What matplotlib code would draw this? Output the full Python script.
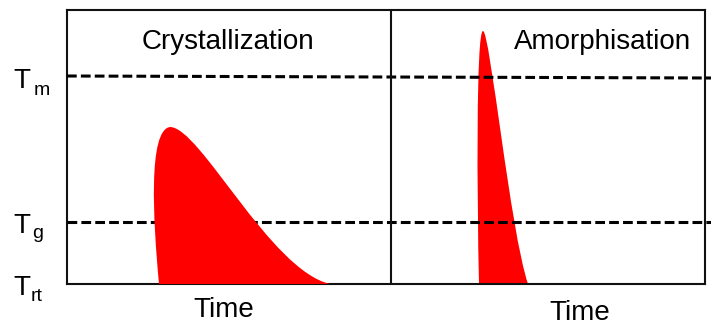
import matplotlib
matplotlib.use("Agg")
import matplotlib.pyplot as plt
from matplotlib.path import Path
from matplotlib.patches import PathPatch

plt.rcParams['font.family'] = ['Liberation Sans', 'DejaVu Sans']
plt.rcParams['lines.scale_dashes'] = False

# Axis extents (arbitrary time / temperature units)
time_max = 638
temp_max = 274
panel_split = 324          # boundary between the two processes

# Reference temperatures
T_rt = 0
T_g = 62
T_m_start, T_m_end = 208, 206
line_end = 644

panel_titles = ["Crystallization", "Amorphisation"]
axis_label = "Time"
temp_labels = [("T", "m", T_m_start), ("T", "g", T_g), ("T", "rt", T_rt)]

# Temperature pulses as cubic Bezier control points (time, temperature)
cryst_pulse_t = [92, 86, 81, 103, 133, 203, 263]
cryst_pulse_T = [0, 64, 154, 157, 157, 14, 0]
amorph_pulse_t = [412, 410, 409, 416, 423, 443, 461]
amorph_pulse_T = [1, 84, 253, 253, 253, 54, 0]

W, H = 711, 325
fig = plt.figure(figsize=(W / 100, H / 100), dpi=100)
ax = fig.add_axes([67 / W, (H - 284) / H, (705 - 67) / W, (284 - 10) / H])
ax.set_xlim(0, time_max)
ax.set_ylim(0, temp_max)
ax.set_xticks([])
ax.set_yticks([])
for sp in ax.spines.values():
    sp.set_linewidth(1.5)
    sp.set_color('#111111')


def pulse_patch(ts, Ts, z):
    verts = list(zip(ts, Ts)) + [(ts[0], Ts[0])]
    codes = [Path.MOVETO] + [Path.CURVE4] * 6 + [Path.CLOSEPOLY]
    return PathPatch(Path(verts, codes), facecolor='#ff0000',
                     edgecolor='none', zorder=z)


dash = dict(color='black', lw=2.2, dashes=(7.0, 3.0), clip_on=False)
ax.plot([0, line_end], [T_m_start, T_m_end], zorder=3, **dash)
ax.plot([0, line_end], [T_g, T_g], zorder=3, **dash)

ax.add_patch(pulse_patch(cryst_pulse_t, cryst_pulse_T, 4))
ax.add_patch(pulse_patch(amorph_pulse_t, amorph_pulse_T, 2))

ax.axvline(panel_split, color='#111111', lw=1.5, zorder=5)


def fig_xy(px, py):
    return px / W, 1 - py / H


ax_text = dict(transform=fig.transFigure, color='black')
fig.text(*fig_xy(228, 42), panel_titles[0], fontsize=20,
         ha='center', va='center', **ax_text)
fig.text(*fig_xy(603, 42), panel_titles[1], fontsize=20,
         ha='center', va='center', **ax_text)
fig.text(*fig_xy(224, 317), axis_label, fontsize=20,
         ha='center', va='baseline', **ax_text)
fig.text(*fig_xy(580, 320), axis_label, fontsize=20,
         ha='center', va='baseline', **ax_text)

# Temperature labels with subscripts
label_pos = {"m": (88, 34, 95), "g": (233, 32, 238), "rt": (295, 31, 301)}
for main, sub, _ in temp_labels:
    base_y, sub_x, sub_y = label_pos[sub]
    fig.text(*fig_xy(13, base_y), main, fontsize=20, ha='left',
             va='baseline', **ax_text)
    fig.text(*fig_xy(sub_x, sub_y), sub, fontsize=14, ha='left',
             va='baseline', **ax_text)

fig.savefig("out.png", dpi=100)
